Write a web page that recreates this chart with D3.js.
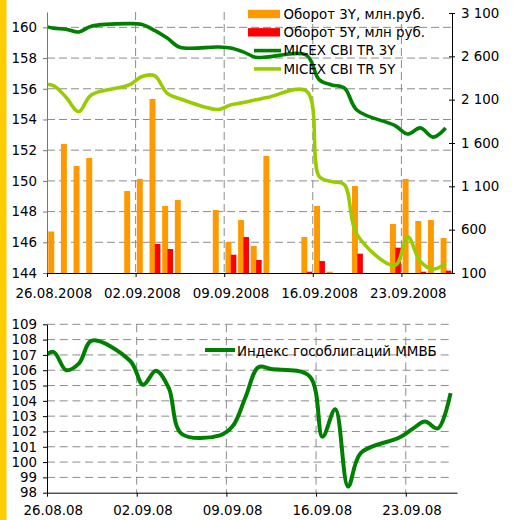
<!DOCTYPE html>
<html>
<head>
<meta charset="utf-8">
<script src="https://cdn.jsdelivr.net/npm/d3@7"></script>
<style>
  body { margin: 0; background: #fff; }
  svg { display: block; font-family: "DejaVu Sans", Verdana, sans-serif; }
</style>
</head>
<body>
<script>
const width = 514;
const height = 520;

// trading days with turnover bars (18.09 - no trading)
const barDays = ["2008-08-26", "2008-08-27", "2008-08-28", "2008-08-29", "2008-09-01", "2008-09-02",
  "2008-09-03", "2008-09-04", "2008-09-05", "2008-09-08", "2008-09-09", "2008-09-10", "2008-09-11",
  "2008-09-12", "2008-09-15", "2008-09-16", "2008-09-17", "2008-09-19", "2008-09-22", "2008-09-23",
  "2008-09-24", "2008-09-25", "2008-09-26"];
const turnover3Y = [579, 1589, 1335, 1427, 1046, 1185, 2108, 873, 942, 827, 458, 712, 412,
  1450, 515, 873, 115, 1104, 665, 1185, 700, 712, 504];
const turnover5Y = [0, 0, 0, 0, 0, 0, 436, 377, 0, 0, 311, 515, 250,
  0, 115, 238, 0, 323, 392, 0, 115, 0, 127];

// index values (25.08 lies left of the plot and is clipped)
const lineDays = ["2008-08-25", "2008-08-26", "2008-08-27", "2008-08-28", "2008-08-29", "2008-09-01",
  "2008-09-02", "2008-09-03", "2008-09-04", "2008-09-05", "2008-09-08", "2008-09-09", "2008-09-10",
  "2008-09-11", "2008-09-12", "2008-09-15", "2008-09-16", "2008-09-17", "2008-09-18", "2008-09-19",
  "2008-09-22", "2008-09-23", "2008-09-24", "2008-09-25", "2008-09-26"];
const cbi3Y = [160.15, 159.95, 159.88, 159.7, 160.07, 160.24, 160.18, 159.8, 159.3, 158.7, 158.72, 158.65, 158.4,
  158.05, 158.08, 158.18, 156.6, 156.25, 156.05, 154.6, 153.6, 153.05, 153.45, 152.85, 153.45];
const cbi5Y = [156.3, 156.2, 155.45, 154.5, 155.6, 156.25, 156.8, 156.85, 155.7, 155.35, 154.65, 154.95, 155.1,
  155.28, 155.45, 155.85, 150.3, 149.95, 149.75, 146.5, 144.5, 146.35, 144.75, 144.25, 144.6];
const govIndex = [106.7, 107.2, 106.0, 106.45, 107.93, 106.6, 105.05, 105.97, 104.85, 101.85, 101.75, 102.35, 104.25,
  106.2, 106.08, 105.6, 101.66, 103.45, 98.4, 100.6, 101.6, 102.15, 102.65, 102.2, 104.5];

const weekTicks = ["2008-08-26", "2008-09-02", "2008-09-09", "2008-09-16", "2008-09-23"];
const topLeftTicks = d3.range(144, 161, 2);
const topRightTicks = d3.range(100, 3101, 500);
const bottomTicks = d3.range(98, 110, 1);
const topLegend = ["Оборот 3Y, млн.руб.", "Оборот 5Y, млн руб.", "MICEX CBI TR 3Y", "MICEX CBI TR 5Y"];
const bottomLegend = "Индекс гособлигаций ММВБ";

const orange = "#FF9900", red = "#FF0000", darkGreen = "#008000", lightGreen = "#99CC00";
const gridColor = "#8c8c8c";
const fontSize = 13.4;

const parse = d3.utcParse("%Y-%m-%d");
const dayMs = 864e5;
const ru = d3.formatLocale({decimal: ",", thousands: "\u00a0", grouping: [3], currency: ["", ""]});

const svg = d3.select("body").append("svg")
  .attr("width", width)
  .attr("height", height);

svg.append("rect")
  .attr("x", 0).attr("y", 0)
  .attr("width", 6.5).attr("height", height)
  .attr("fill", "#FFCC00");

function styleAxis(g, color) {
  g.attr("font-family", null).attr("font-size", fontSize);
  g.select(".domain").attr("stroke", color);
  g.selectAll(".tick line").attr("stroke", color);
  g.selectAll(".tick text").attr("fill", "#000");
}

// ---------- top chart ----------
const mTop = {left: 47, right: 452, top: 12, bottom: 273};

const x1 = d3.scaleUtc()
  .domain([parse("2008-08-26"), parse("2008-09-27")])
  .range([mTop.left, mTop.right]);
const dw1 = x1(parse("2008-08-27")) - x1(parse("2008-08-26"));

const yL = d3.scaleLinear().domain([144, 161]).range([mTop.bottom, mTop.top]);
const yR = d3.scaleLinear().domain([100, 3100]).range([mTop.bottom, 13]);

const g1 = svg.append("g");

g1.append("clipPath").attr("id", "clipTop")
  .append("rect")
  .attr("x", mTop.left).attr("y", 0)
  .attr("width", mTop.right - mTop.left).attr("height", mTop.bottom);

// grid
g1.append("g").selectAll("line")
  .data(topLeftTicks.filter(d => d > 144))
  .enter().append("line")
  .attr("x1", mTop.left).attr("x2", mTop.right)
  .attr("y1", d => yL(d)).attr("y2", d => yL(d))
  .attr("stroke", gridColor).attr("stroke-dasharray", "8,4");
g1.append("g").selectAll("line")
  .data(weekTicks.slice(1))
  .enter().append("line")
  .attr("x1", d => x1(parse(d))).attr("x2", d => x1(parse(d)))
  .attr("y1", mTop.top).attr("y2", mTop.bottom)
  .attr("stroke", gridColor).attr("stroke-dasharray", "8,4");

// bars
const bars = barDays.map((d, i) => ({day: parse(d), v3: turnover3Y[i], v5: turnover5Y[i]}));

g1.append("g").selectAll("rect")
  .data(bars.filter(d => d.v3 > 0))
  .enter().append("rect")
  .attr("x", d => x1(d.day) + dw1 * 0.1)
  .attr("width", dw1 * 0.47)
  .attr("y", d => yR(d.v3))
  .attr("height", d => yR(100) - yR(d.v3))
  .attr("fill", orange);

g1.append("g").selectAll("rect")
  .data(bars.filter(d => d.v5 > 0))
  .enter().append("rect")
  .attr("x", d => x1(d.day) + dw1 * 0.52)
  .attr("width", dw1 * 0.44)
  .attr("y", d => yR(d.v5))
  .attr("height", d => yR(100) - yR(d.v5))
  .attr("fill", red);

// lines
const dayMid = d => new Date(parse(d).getTime() + dayMs / 2);
const lineTop = d3.line()
  .x(d => x1(d.day))
  .y(d => yL(d.v))
  .curve(d3.curveCatmullRom.alpha(0.5));

[[cbi3Y, darkGreen], [cbi5Y, lightGreen]].forEach(([vals, color]) => {
  g1.append("path")
    .datum(lineDays.map((d, i) => ({day: dayMid(d), v: vals[i]})))
    .attr("clip-path", "url(#clipTop)")
    .attr("fill", "none")
    .attr("stroke", color)
    .attr("stroke-width", 3.6)
    .attr("stroke-linejoin", "round")
    .attr("d", lineTop);
});

// axes
g1.append("g")
  .attr("transform", `translate(${mTop.left},0)`)
  .call(d3.axisLeft(yL).tickValues(topLeftTicks).tickSizeInner(4).tickSizeOuter(0).tickPadding(6))
  .call(g => styleAxis(g, "#777"));

g1.append("g")
  .attr("transform", `translate(${mTop.right},0)`)
  .call(d3.axisRight(yR).tickValues(topRightTicks).tickSizeInner(3).tickSizeOuter(0).tickPadding(6)
    .tickFormat(ru.format(",")))
  .call(g => styleAxis(g, "#000"))
  .call(g => g.selectAll(".tick line").attr("x1", -3));

g1.append("g")
  .attr("transform", `translate(0,${mTop.bottom})`)
  .call(d3.axisBottom(x1).tickValues(weekTicks.map(parse)).tickSizeInner(4).tickSizeOuter(0).tickPadding(11)
    .tickFormat(d3.utcFormat("%d.%m.%Y")))
  .call(g => styleAxis(g, "#000"))
  .call(g => g.selectAll(".tick text").attr("x", dw1 / 2));

// legend
const legendTop = g1.append("g").attr("transform", "translate(248,14)");
topLegend.forEach((name, i) => {
  const row = legendTop.append("g").attr("transform", `translate(0,${i * 18.3})`);
  if (i < 2) {
    row.append("rect")
      .attr("x", 0).attr("y", -4.2)
      .attr("width", 32).attr("height", 8.4)
      .attr("fill", i === 0 ? orange : red);
  } else {
    row.append("line")
      .attr("x1", 6).attr("x2", 33)
      .attr("stroke", i === 2 ? darkGreen : lightGreen)
      .attr("stroke-width", 3.6);
  }
  row.append("text")
    .attr("x", 35.5).attr("y", 4.7)
    .attr("font-size", fontSize)
    .text(name);
});

// ---------- bottom chart ----------
const mBot = {left: 47, right: 457, top: 324.3, bottom: 492.7};

const x2 = d3.scaleUtc()
  .domain([parse("2008-08-26"), parse("2008-09-27")])
  .range([mBot.left, mBot.right]);
const dw2 = x2(parse("2008-08-27")) - x2(parse("2008-08-26"));
const y2 = d3.scaleLinear().domain([98, 109]).range([mBot.bottom, mBot.top]);

const g2 = svg.append("g");

g2.append("clipPath").attr("id", "clipBot")
  .append("rect")
  .attr("x", mBot.left).attr("y", mBot.top - 10)
  .attr("width", mBot.right - mBot.left).attr("height", mBot.bottom - mBot.top + 10);

g2.append("g").selectAll("line")
  .data(bottomTicks.filter(d => d > 98))
  .enter().append("line")
  .attr("x1", mBot.left).attr("x2", mBot.right - 4)
  .attr("y1", d => y2(d)).attr("y2", d => y2(d))
  .attr("stroke", gridColor).attr("stroke-dasharray", "8,4.7");
g2.append("g").selectAll("line")
  .data(weekTicks.slice(1))
  .enter().append("line")
  .attr("x1", d => x2(parse(d))).attr("x2", d => x2(parse(d)))
  .attr("y1", mBot.top).attr("y2", mBot.bottom)
  .attr("stroke", gridColor).attr("stroke-dasharray", "8,4.7");

g2.append("path")
  .datum(lineDays.map((d, i) => ({day: dayMid(d), v: govIndex[i]})))
  .attr("clip-path", "url(#clipBot)")
  .attr("fill", "none")
  .attr("stroke", darkGreen)
  .attr("stroke-width", 4)
  .attr("stroke-linejoin", "round")
  .attr("d", d3.line()
    .x(d => x2(d.day))
    .y(d => y2(d.v))
    .curve(d3.curveCatmullRom.alpha(0.5)));

g2.append("g")
  .attr("transform", `translate(${mBot.left},0)`)
  .call(d3.axisLeft(y2).tickValues(bottomTicks).tickSizeInner(4).tickSizeOuter(0).tickPadding(6))
  .call(g => styleAxis(g, "#000"));

g2.append("g")
  .attr("transform", `translate(0,${mBot.bottom})`)
  .call(d3.axisBottom(x2).tickValues(weekTicks.map(parse)).tickSizeInner(4).tickSizeOuter(0).tickPadding(9)
    .tickFormat(d3.utcFormat("%d.%m.%y")))
  .call(g => styleAxis(g, "#000"))
  .call(g => g.selectAll(".tick text").attr("x", dw2 * 0.45));

const legendBot = g2.append("g").attr("transform", "translate(205,350)");
legendBot.append("line")
  .attr("x1", 0).attr("x2", 30)
  .attr("stroke", darkGreen)
  .attr("stroke-width", 4);
legendBot.append("text")
  .attr("x", 32).attr("y", 6.2)
  .attr("font-size", fontSize)
  .text(bottomLegend);
</script>
</body>
</html>
